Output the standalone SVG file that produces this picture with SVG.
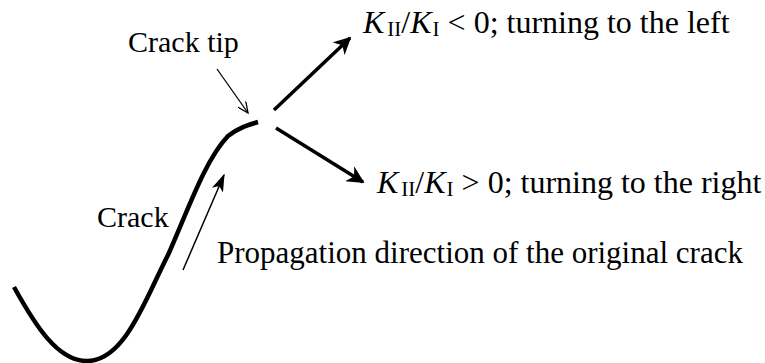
<svg xmlns="http://www.w3.org/2000/svg" width="765" height="363" viewBox="0 0 765 363">
<defs>
<style>
text{font-family:"Liberation Serif","Times New Roman",serif;font-size:30px;fill:#000}
.big{font-size:32px}
.it{font-style:italic}
.sub{font-size:21px}
.thick{stroke:#000;stroke-width:3.5;fill:none}
.thin{stroke:#000;stroke-width:1.5;fill:none}
</style>
<marker id="ah" viewBox="0 0 10 10" refX="9" refY="5" markerWidth="5" markerHeight="5" markerUnits="strokeWidth" orient="auto">
<path d="M0,0 L10,5 L0,10 L3,5 Z" fill="#000"/>
</marker>
<marker id="ahs" viewBox="0 0 12 8" refX="11" refY="4" markerWidth="12" markerHeight="8" markerUnits="strokeWidth" orient="auto">
<path d="M0,0 L12,4 L0,8 L3,4 Z" fill="#000"/>
</marker>
<marker id="ao" viewBox="0 0 12 10" refX="11" refY="5" markerWidth="12" markerHeight="10" markerUnits="userSpaceOnUse" orient="auto">
<path d="M0,0 L11,5 L0,10" fill="none" stroke="#000" stroke-width="1.3"/>
</marker>
</defs>
<g id="crack">
<path d="M14,287 C35,325 58,362 88,361 C125,360 145,300 168,255 C188,210 205,160 228,136 C238,128 248,125 258,122" stroke="#000" stroke-width="4.5" fill="none"/>
</g>
<g id="connectors">
<line class="thick" x1="274" y1="110" x2="350" y2="38" marker-end="url(#ah)"/>
<line class="thick" x1="276" y1="128" x2="363" y2="182" marker-end="url(#ah)"/>
<line x1="217" y1="69" x2="248" y2="113" stroke="#000" stroke-width="1.3" marker-end="url(#ao)"/>
<line class="thin" x1="183" y1="270" x2="224" y2="175" marker-end="url(#ahs)"/>
</g>
<g id="label-crack-tip"><text x="128" y="52">Crack tip</text></g>
<g id="label-crack"><text x="97" y="227">Crack</text></g>
<g id="label-propagation"><text x="217" y="263" style="font-size:31px">Propagation direction of the original crack</text></g>
<g id="label-left"><text class="big" x="363" y="33"><tspan class="it">K</tspan><tspan class="sub" dx="3" dy="3">II</tspan><tspan dy="-3">/</tspan><tspan class="it">K</tspan><tspan class="sub" dx="1" dy="3">I</tspan><tspan dy="-3"> &lt; 0; turning to the left</tspan></text></g>
<g id="label-right"><text class="big" x="377" y="193"><tspan class="it">K</tspan><tspan class="sub" dx="3" dy="3">II</tspan><tspan dy="-3">/</tspan><tspan class="it">K</tspan><tspan class="sub" dx="1" dy="3">I</tspan><tspan dy="-3"> &gt; 0; turning to the right</tspan></text></g>
</svg>
